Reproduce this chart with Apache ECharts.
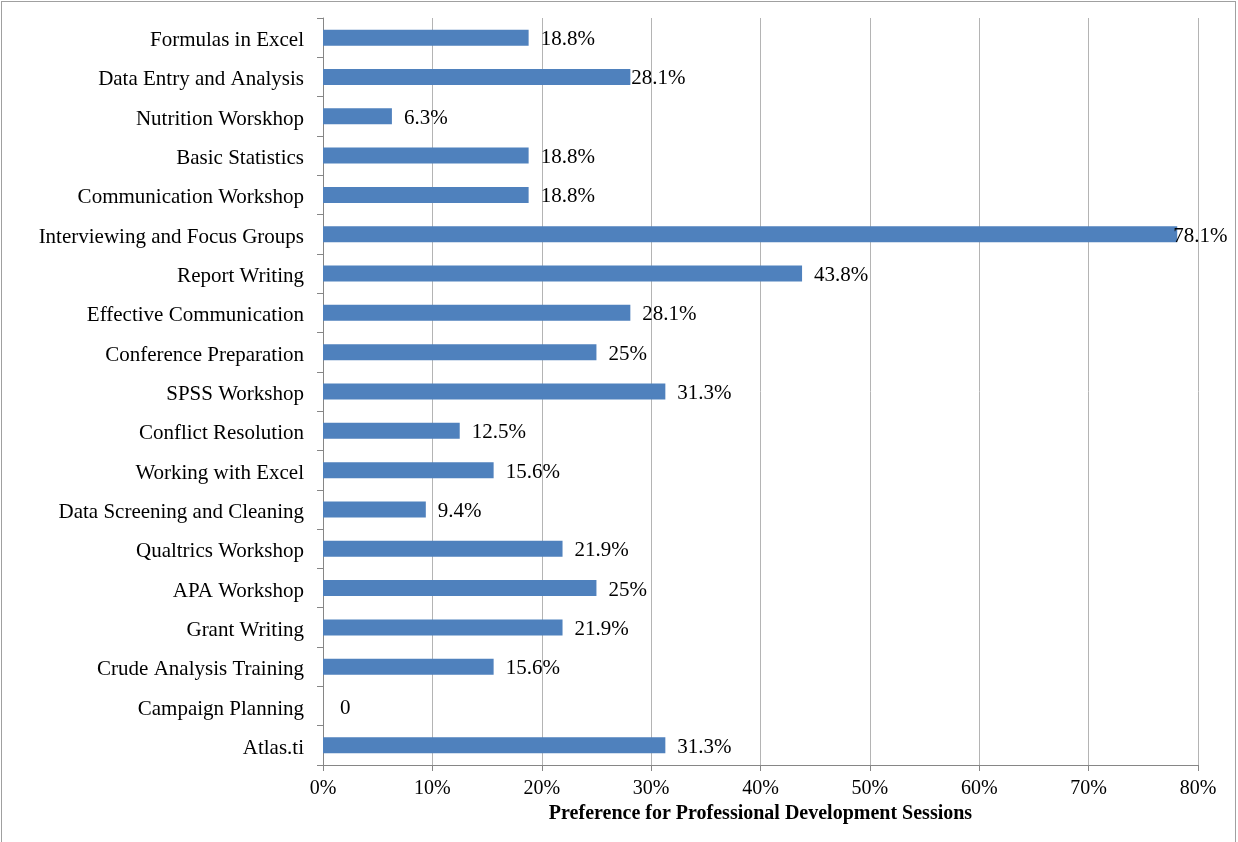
<!DOCTYPE html>
<html>
<head>
<meta charset="utf-8">
<script src="https://cdn.jsdelivr.net/npm/echarts@6/dist/echarts.min.js"></script>
<style>
	html, body { margin: 0; padding: 0; background: #fff; }
	#frame { position: absolute; left: 1px; top: 1px; width: 1233px; height: 860px; border: 1px solid #a0a0a0; }
	#myChart { position: absolute; left: 0; top: 0; width: 1238px; height: 842px; }
</style>
</head>
<body>
<div id="frame"></div>
<div id="myChart"></div>
<script>
// categories top to bottom
var categories = ['Formulas in Excel', 'Data Entry and Analysis', 'Nutrition Worskhop', 'Basic Statistics',
	'Communication Workshop', 'Interviewing and Focus Groups', 'Report Writing', 'Effective Communication',
	'Conference Preparation', 'SPSS Workshop', 'Conflict Resolution', 'Working with Excel',
	'Data Screening and Cleaning', 'Qualtrics Workshop', 'APA Workshop', 'Grant Writing',
	'Crude Analysis Training', 'Campaign Planning', 'Atlas.ti'];
var values = [18.8, 28.1, 6.3, 18.8, 18.8, 78.1, 43.8, 28.1, 25, 31.3, 12.5, 15.6, 9.4, 21.9, 25, 21.9, 15.6, 0, 31.3];
var labels = ['18.8%', '28.1%', '6.3%', '18.8%', '18.8%', '78.1%', '43.8%', '28.1%', '25%', '31.3%', '12.5%',
	'15.6%', '9.4%', '21.9%', '25%', '21.9%', '15.6%', '0', '31.3%'];
var xTicks = [0, 10, 20, 30, 40, 50, 60, 70, 80];
var xTitle = 'Preference for Professional Development Sessions';

var font = '"Liberation Serif", "Times New Roman", serif';

var barData = values.map(function (v, i) {
	var item = { value: v };
	// Excel nudged a couple of labels
	if (i === 1) item.label = { distance: 1 };
	if (i === 5) item.label = { distance: -4 };
	if (i === 17) item.label = { distance: 17 };
	return item;
});

var myChart = echarts.init(document.getElementById('myChart'));
myChart.setOption({
	animation: false,
	grid: { left: 323, top: 18, width: 875, height: 747 },
	xAxis: {
		type: 'value',
		min: xTicks[0],
		max: xTicks[xTicks.length - 1],
		interval: 10,
		axisLine: { show: true, lineStyle: { color: '#868686', width: 1 } },
		axisTick: { show: true, length: 6, lineStyle: { color: '#868686' } },
		splitLine: { show: true, lineStyle: { color: '#b4b4b4', width: 1 } },
		axisLabel: {
			color: '#000', fontFamily: font, fontSize: 20, margin: 14,
			formatter: function (v) { return v + '%'; }
		},
		name: xTitle,
		nameLocation: 'middle',
		nameGap: 39,
		nameTextStyle: { color: '#000', fontFamily: font, fontSize: 20, fontWeight: 'bold' }
	},
	yAxis: {
		type: 'category',
		inverse: true,
		data: categories,
		axisLine: { show: true, lineStyle: { color: '#868686', width: 1 } },
		axisTick: { show: true, length: 6, lineStyle: { color: '#868686' } },
		axisLabel: {
			color: '#000', fontFamily: font, fontSize: 21, margin: 19,
			formatter: function (v) { return '{a|' + v + '}'; },
			rich: { a: { fontFamily: font, fontSize: 21, color: '#000', padding: [6, 0, 0, 0] } }
		}
	},
	series: [{
		type: 'bar',
		data: barData,
		barWidth: 16,
		itemStyle: { color: '#4f81bd' },
		label: {
			show: true,
			position: 'right',
			distance: 12,
			offset: [0, 2],
			color: '#000',
			fontFamily: font,
			fontSize: 21,
			formatter: function (p) { return labels[p.dataIndex]; }
		}
	}]
});
</script>
</body>
</html>
